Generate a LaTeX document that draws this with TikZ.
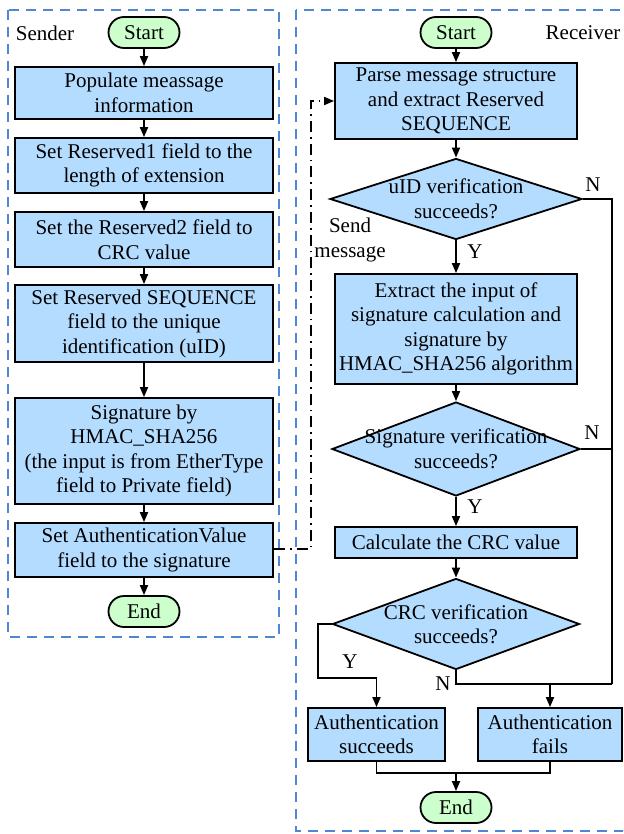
\documentclass[tikz,border=0pt]{standalone}
\usepackage{fontspec}
\setmainfont{Liberation Serif}
\usetikzlibrary{shapes.geometric,arrows.meta}

\definecolor{boxblue}{RGB}{180,220,255}
\definecolor{termgreen}{RGB}{204,255,204}
\definecolor{laneblue}{RGB}{80,135,210}

\tikzset{
  every node/.style={font=\fontsize{21}{24.5}\selectfont},
  procbox/.style={draw=black, line width=1.8pt, fill=boxblue, align=center, inner sep=0pt},
  term/.style={draw=black, line width=1.8pt, fill=termgreen, rounded corners=15.5pt,
               minimum width=71pt, minimum height=31pt, inner sep=0pt},
  decision/.style={draw=black, line width=1.8pt, fill=boxblue, diamond, inner sep=0pt},
  flow/.style={line width=1.8pt, -{Triangle[length=10pt,width=8pt]}},
  plainline/.style={line width=1.8pt},
  lane/.style={draw=laneblue, line width=2.2pt, dash pattern=on 10pt off 7pt},
  sendline/.style={line width=1.7pt, dash pattern=on 11pt off 5pt on 1.7pt off 5pt,
                   -{Triangle[length=10pt,width=8pt]}},
}

\begin{document}
\begin{tikzpicture}[x=1pt, y=-1pt]
\useasboundingbox (0,0) rectangle (623,834);
\clip (0,0) rectangle (623,834);

% swim lanes
\draw[lane] (8,10) rectangle (279,637);
\draw[lane] (296,10) rectangle (640,831);
\node[anchor=center] (sendertitle) at (45,33) {Sender};
\node[anchor=center] (receivertitle) at (583,33) {Receiver};

% ---------- sender ----------
\node[term] (sstart) at (144,32.5) {Start};
\node[procbox, minimum width=258pt, minimum height=52pt] (s1) at (144,93)
  {Populate meassage\\information};
\node[procbox, minimum width=258pt, minimum height=55pt] (s2) at (144,165.5)
  {Set Reserved1 field to the\\length of extension};
\node[procbox, minimum width=258pt, minimum height=55pt] (s3) at (144,239.5)
  {Set the Reserved2 field to\\CRC value};
\node[procbox, minimum width=258pt, minimum height=77pt] (s4) at (144,323.5)
  {Set Reserved SEQUENCE\\field to the unique\\identification (uID)};
\node[procbox, minimum width=258pt, minimum height=106pt] (s5) at (144,451)
  {Signature by\\HMAC\_SHA256\\(the input is from EtherType\\field to Private field)};
\node[procbox, minimum width=258pt, minimum height=54pt] (s6) at (144,550)
  {Set AuthenticationValue\\field to the signature};
\node[term] (send) at (144,611.5) {End};

\draw[flow] (sstart) -- (s1);
\draw[flow] (s1) -- (s2);
\draw[flow] (s2) -- (s3);
\draw[flow] (s3) -- (s4);
\draw[flow] (s4) -- (s5);
\draw[flow] (s5) -- (s6);
\draw[flow] (s6) -- (send);

% ---------- receiver ----------
\node[term] (rstart) at (456,32.5) {Start};
\node[procbox, minimum width=242pt, minimum height=76pt] (r1) at (456,101)
  {Parse message structure\\and extract Reserved\\SEQUENCE};
\node[decision, minimum width=252pt, minimum height=81pt,
      label={[align=center]center:uID verification\\succeeds?}] (d1) at (456,199) {};
\node[procbox, minimum width=242pt, minimum height=110pt] (r2) at (456,329)
  {Extract the input of\\signature calculation and\\signature by\\HMAC\_SHA256 algorithm};
\node[decision, minimum width=248pt, minimum height=94pt,
      label={[align=center]center:Signature verification\\succeeds?}] (d2) at (456,449) {};
\node[procbox, minimum width=242pt, minimum height=31pt] (r3) at (456,542.5)
  {Calculate the CRC value};
\node[decision, minimum width=247pt, minimum height=91pt,
      label={[align=center]center:CRC verification\\succeeds?}] (d3) at (456,624) {};
\node[procbox, minimum width=137pt, minimum height=53pt] (ok) at (376.5,734.5)
  {Authentication\\succeeds};
\node[procbox, minimum width=144pt, minimum height=53pt] (fail) at (550,734.5)
  {Authentication\\fails};
\node[term] (rend) at (456,807.5) {End};

\draw[flow] (rstart) -- (r1);
\draw[flow] (r1) -- (d1);
\draw[flow] (d1) -- (r2);
\draw[flow] (r2) -- (d2);
\draw[flow] (d2) -- (r3);
\draw[flow] (r3) -- (d3);

% failure path on the right
\coordinate (nright) at (612,684);
\coordinate (nbottom) at (456,684);
\coordinate (nfork) at (550,684);
\draw[plainline] (d1.east) -| (nright);
\draw[plainline] (d2.east) -- (d2.east -| nright);
\draw[plainline] (d3.south) -- (nbottom) -- (nright);
\draw[flow] (nfork) -- (fail.north);

% success path on the left
\coordinate (yleft) at (318,678);
\draw[flow] (d3.west) -| (yleft) -| (ok.north);

% merge into End
\coordinate (merge) at (456,773);
\draw[plainline] (ok.south) |- (merge);
\draw[plainline] (fail.south) |- (merge);
\draw[flow] (merge) -- (rend.north);

% branch labels
\node (n1) at (593,185) {N};
\node (y1) at (475,252) {Y};
\node (n2) at (592,433) {N};
\node (y2) at (475,507) {Y};
\node (y3) at (350,662) {Y};
\node (n3) at (443,684) {N};

% message transfer
\coordinate (sendbend) at (311,549);
\draw[sendline] (s6.east |- sendbend) -- (sendbend) |- (r1.west);
\node[align=center] (sendlabel) at (350,240) {Send\\message};
\end{tikzpicture}
\end{document}
